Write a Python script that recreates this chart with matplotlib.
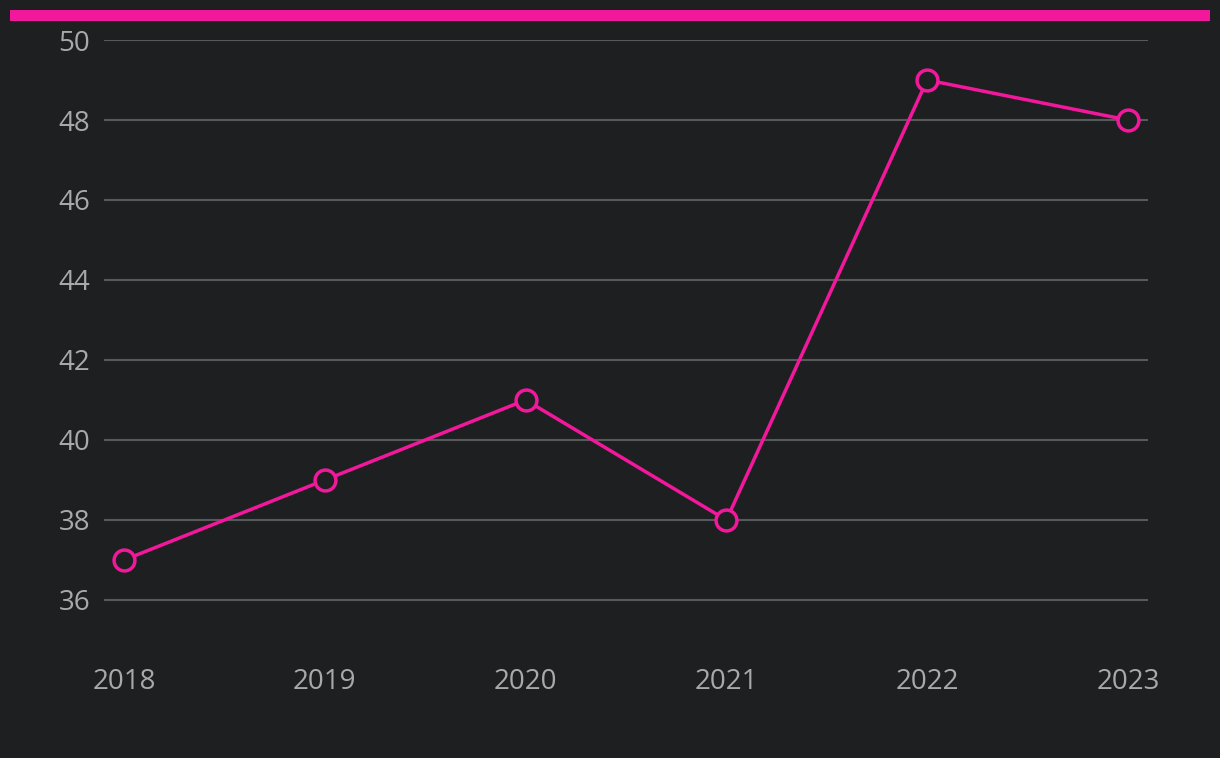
import matplotlib
matplotlib.use("Agg")
import matplotlib.pyplot as plt
from matplotlib.patches import Rectangle

years = ["2018", "2019", "2020", "2021", "2022", "2023"]
values = [37, 39, 41, 38, 49, 48]
y_ticks = [36, 38, 40, 42, 44, 46, 48, 50]

bg = "#1e1f21"
pink = "#f2189b"
grid = "#58595b"
txt = "#a9a9ab"

plt.rcParams["font.family"] = ["Open Sans", "DejaVu Sans"]

W, H = 1220, 758
fig = plt.figure(figsize=(W / 100, H / 100), dpi=100, facecolor=bg)
ax = fig.add_axes([104 / W, 1 - 640 / H, (1148 - 104) / W, 600 / H], facecolor=bg)

# barre d'accent en haut
fig.patches.append(Rectangle((10 / W, 1 - 21 / H), 1200 / W, 11 / H,
                             transform=fig.transFigure, facecolor=pink,
                             edgecolor="none"))

x = list(range(len(years)))
ax.plot(x, values, color=pink, lw=2.5, marker="o", ms=15,
        mfc=bg, mec=pink, mew=2.5, zorder=3, clip_on=False)

ax.set_xlim(-0.1, len(years) - 1 + 0.1)
ax.set_ylim(35, 50)
ax.set_yticks(y_ticks)
ax.set_xticks(x)
ax.set_xticklabels(years)
ax.yaxis.grid(True, color=grid, lw=1.5)
ax.set_axisbelow(True)
for s in ax.spines.values():
    s.set_visible(False)
ax.tick_params(axis="both", length=0, labelsize=20, labelcolor=txt)
ax.tick_params(axis="y", pad=10)
ax.tick_params(axis="x", pad=20)

fig.savefig("out.png", dpi=100, facecolor=bg)
